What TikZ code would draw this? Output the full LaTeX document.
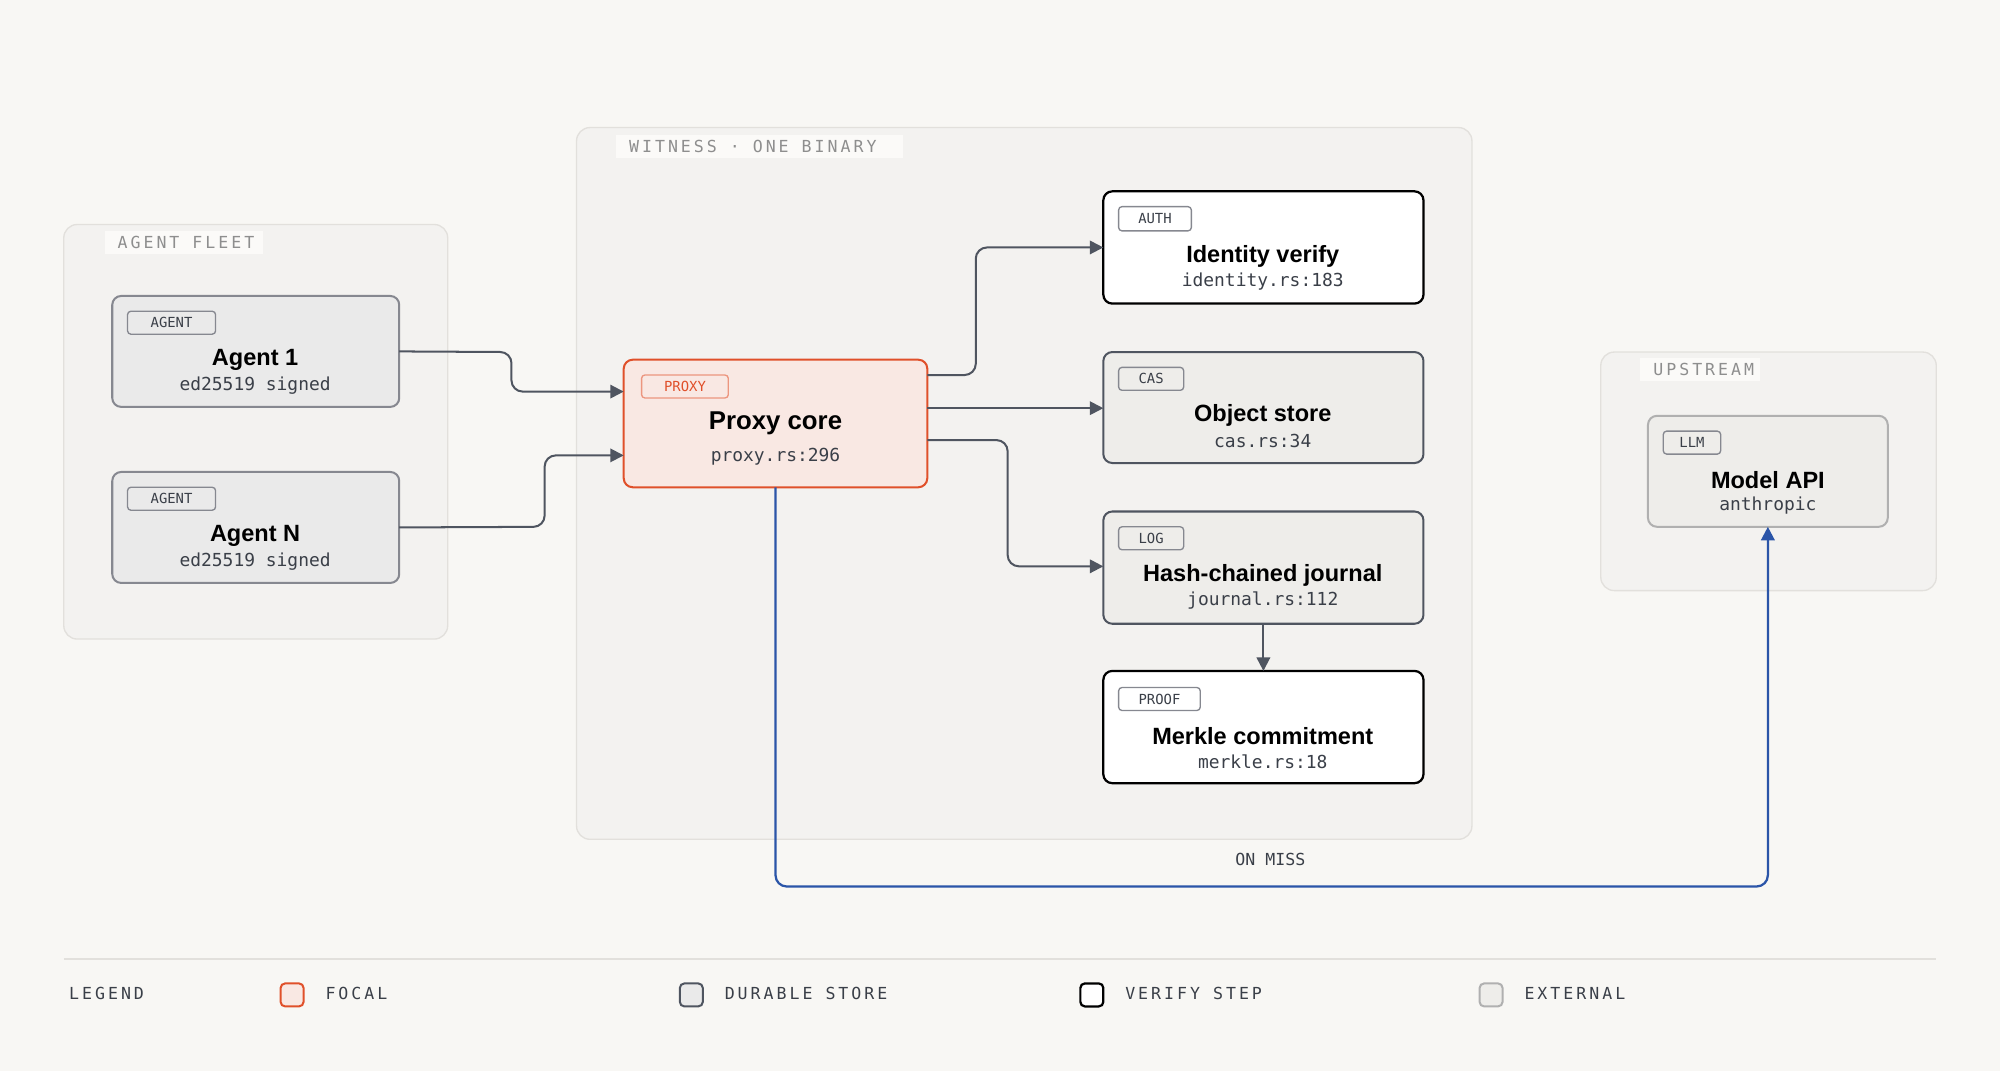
\documentclass[tikz,border=0pt]{standalone}
\usepackage{fontspec}
\setmainfont{Liberation Sans}
\newfontfamily\mono{DejaVu Sans Mono}
\newfontfamily\spmono[LetterSpace=18]{DejaVu Sans Mono}
\usetikzlibrary{arrows.meta}
\definecolor{bg}{HTML}{F8F7F4}
\definecolor{grpfill}{HTML}{F3F2F0}
\definecolor{grpline}{HTML}{E2E0DC}
\definecolor{agfill}{HTML}{EAEAEA}
\definecolor{agline}{HTML}{868890}
\definecolor{pxfill}{HTML}{F9E8E3}
\definecolor{pxline}{HTML}{E0502A}
\definecolor{dkline}{HTML}{4F5560}
\definecolor{stfill}{HTML}{EEEDEA}
\definecolor{exline}{HTML}{B0B0B0}
\definecolor{blue}{HTML}{2B55A8}
\definecolor{txt}{HTML}{3A3F48}
\definecolor{lbl}{HTML}{8E8E8E}
\newcommand{\bx}[6]{\node[#6, minimum width={(#4-#2)*0.02cm}, minimum height={(#5-#3)*0.02cm}] (#1) at ({(#2+#4)/2},{(#3+#5)/2}) {};}
\newcommand{\tg}[6]{\node[tag,#6, minimum width={(#4-#2)*0.02cm}, minimum height={(#5-#3)*0.02cm}] (#1) at ({(#2+#4)/2},{(#3+#5)/2}) {};}
\tikzset{
  base/.style={rectangle, rounded corners=4pt, inner sep=0, outer sep=0},
  grp/.style={base, fill=grpfill, draw=grpline, line width=0.6pt, rounded corners=6pt},
  agent/.style={base, fill=agfill, draw=agline, line width=0.9pt},
  proxy/.style={base, fill=pxfill, draw=pxline, line width=0.9pt},
  verify/.style={base, fill=white, draw=black, line width=1pt},
  store/.style={base, fill=stfill, draw=dkline, line width=0.9pt},
  ext/.style={base, fill=stfill, draw=exline, line width=0.9pt},
  tag/.style={rectangle, rounded corners=1.5pt, inner sep=0, draw=agline, line width=0.6pt, fill=none},
  tagtxt/.style={font=\mono\fontsize{6.2}{7}\selectfont, text=txt},
  title/.style={font=\bfseries\fontsize{10.5}{12}\selectfont, text=black},
  sub/.style={font=\mono\fontsize{8}{9}\selectfont, text=txt},
  glabel/.style={font=\spmono\fontsize{7.4}{8}\selectfont, text=lbl, anchor=west},
  arr/.style={draw=dkline, line width=0.9pt, rounded corners=5pt, -{Triangle[length=6pt,width=6pt]}},
  legtxt/.style={font=\spmono\fontsize{7.4}{8}\selectfont, text=txt, anchor=west},
}
\begin{document}
\begin{tikzpicture}[x=0.02cm,y=-0.02cm]
\fill[bg] (0,0) rectangle (1568,840);
\useasboundingbox (0,0) rectangle (1568,840);
% groups
\bx{fleet}{50}{176}{351}{501}{grp}
\fill[bg!60!white] (82,181) rectangle (206,199);
\node[glabel] (fleetl) at (86,190) {AGENT FLEET};
\bx{witness}{452}{100}{1154}{658}{grp}
\fill[bg!60!white] (483,106) rectangle (708,124);
\node[glabel] (witl) at (487,115) {WITNESS · ONE BINARY};
\bx{up}{1255}{276}{1518}{463}{grp}
\fill[bg!60!white] (1286,281) rectangle (1380,299);
\node[glabel] (upl) at (1290,290) {UPSTREAM};
% agents
\bx{a1}{88}{232}{313}{319}{agent}
\tg{a1t}{100}{244}{169}{262}{}
\node[tagtxt] at (a1t) {AGENT};
\node[title] at (200,282) {Agent 1};
\node[sub] at (200,302) {ed25519 signed};
\bx{an}{88}{370}{313}{457}{agent}
\tg{ant}{100}{382}{169}{400}{}
\node[tagtxt] at (ant) {AGENT};
\node[title] at (200,420) {Agent N};
\node[sub] at (200,440) {ed25519 signed};
% proxy
\bx{px}{489}{282}{727}{382}{proxy}
\tg{pxt}{503}{294}{571}{312}{draw=pxline!60}
\node[tagtxt, text=pxline] at (pxt) {PROXY};
\node[title, font=\fontsize{11.5}{13}\selectfont\bfseries] at (608,332) {Proxy core};
\node[sub] at (608,358) {proxy.rs:296};
% right column
\bx{id}{865}{150}{1116}{238}{verify}
\tg{idt}{877}{162}{934}{181}{}
\node[tagtxt] at (idt) {AUTH};
\node[title] at (990,201) {Identity verify};
\node[sub] at (990,221) {identity.rs:183};
\bx{cas}{865}{276}{1116}{363}{store}
\tg{cast}{877}{288}{928}{306}{}
\node[tagtxt] at (cast) {CAS};
\node[title] at (990,326) {Object store};
\node[sub] at (990,346) {cas.rs:34};
\bx{jr}{865}{401}{1116}{489}{store}
\tg{jrt}{877}{413}{928}{431}{}
\node[tagtxt] at (jrt) {LOG};
\node[title] at (990,451) {Hash-chained journal};
\node[sub] at (990,471) {journal.rs:112};
\bx{mk}{865}{526}{1116}{614}{verify}
\tg{mkt}{877}{539}{941}{557}{}
\node[tagtxt] at (mkt) {PROOF};
\node[title] at (990,577) {Merkle commitment};
\node[sub] at (990,597) {merkle.rs:18};
% model api
\bx{api}{1292}{326}{1480}{413}{ext}
\tg{apit}{1304}{338}{1349}{356}{}
\node[tagtxt] at (apit) {LLM};
\node[title] at (1386,376) {Model API};
\node[sub] at (1386,396) {anthropic};
% connectors
\draw[arr] (a1.east) -- (401,276) -- (401,307) -- (px.west |- 0,307);
\draw[arr] (an.east) -- (427,413) -- (427,357) -- (px.west |- 0,357);
\draw[arr] (px.east |- 0,294) -- (765,294) -- (765,194) -- (id.west |- 0,194);
\draw[arr] (px.east |- 0,320) -- (cas.west |- 0,320);
\draw[arr] (px.east |- 0,345) -- (790,345) -- (790,444) -- (jr.west |- 0,444);
\draw[arr] (jr.south) -- (mk.north);
\draw[arr, draw=blue, line width=1pt] (px.south -| 608,0) -- (608,695) -- (1386,695) -- (api.south -| 1386,0);
\node[font=\mono\fontsize{7.4}{8}\selectfont, text=txt] (miss) at (996,674) {ON MISS};
% legend
\draw[grpline, line width=0.8pt] (50,752) -- (1518,752);
\node[legtxt] (leg) at (48,779) {LEGEND};
\node[base, rounded corners=2pt, minimum size=18*0.02cm, fill=pxfill, draw=pxline, line width=0.9pt] (l1) at (229,780) {};
\node[legtxt] at (249,779) {FOCAL};
\node[base, rounded corners=2pt, minimum size=18*0.02cm, fill=agfill, draw=dkline, line width=0.9pt] (l2) at (542,780) {};
\node[legtxt] at (562,779) {DURABLE STORE};
\node[base, rounded corners=2pt, minimum size=18*0.02cm, fill=white, draw=black, line width=1pt] (l3) at (856,780) {};
\node[legtxt] at (876,779) {VERIFY STEP};
\node[base, rounded corners=2pt, minimum size=18*0.02cm, fill=stfill, draw=exline, line width=0.9pt] (l4) at (1169,780) {};
\node[legtxt] at (1189,779) {EXTERNAL};
\end{tikzpicture}
\end{document}
